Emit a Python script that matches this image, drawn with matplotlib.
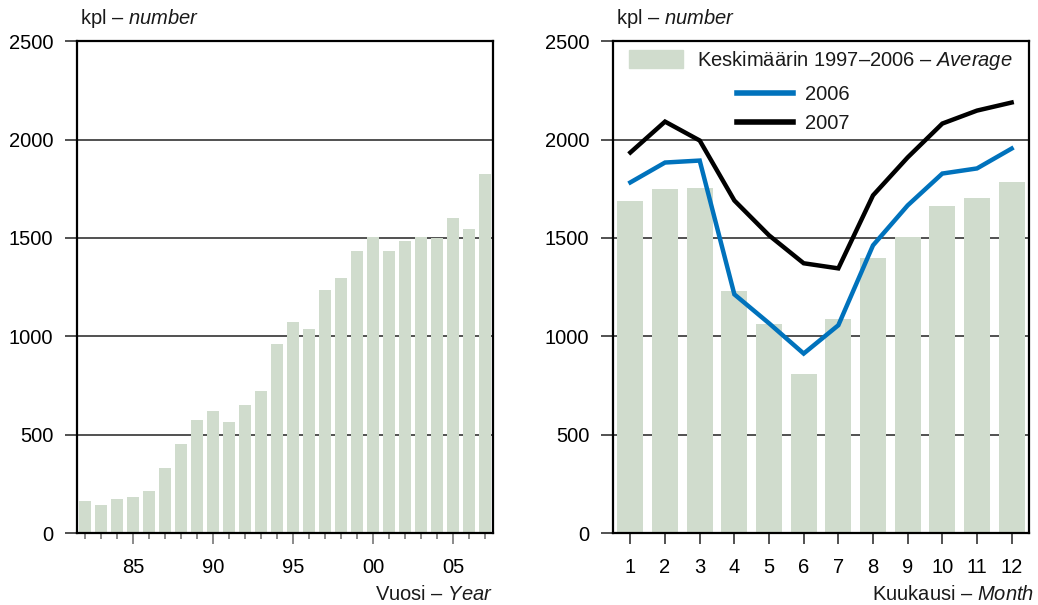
"""
Vehicle counts: yearly totals and monthly pattern (kpl - number).
"""

import matplotlib
matplotlib.use("Agg")
import matplotlib.pyplot as plt
from matplotlib.lines import Line2D
from matplotlib.patches import Patch

FONT = ["Liberation Sans", "DejaVu Sans"]
plt.rcParams["font.family"] = FONT
plt.rcParams["mathtext.fontset"] = "custom"
plt.rcParams["mathtext.rm"] = "Liberation Sans"
plt.rcParams["mathtext.it"] = "Liberation Sans:italic"
plt.rcParams["text.color"] = "#1a1a1a"

BAR_COLOR = "#D0DCCD"
BLUE = "#0072BC"
BLACK = "#000000"
FS = 14.5

# yearly data 1982-2007
years = list(range(1982, 2008))
yearly = [162, 142, 172, 183, 213, 330, 452, 574, 619, 563, 650, 721, 959,
          1071, 1036, 1234, 1294, 1431, 1503, 1431, 1482, 1503, 1497, 1599,
          1543, 1827]
year_ticks = [1985, 1990, 1995, 2000, 2005]
year_labels = ["85", "90", "95", "00", "05"]

# monthly data
months = list(range(1, 13))
avg_9706 = [1685, 1746, 1756, 1228, 1061, 807, 1086, 1396, 1503, 1660, 1701, 1782]
m2006 = [1782, 1883, 1893, 1213, 1066, 912, 1056, 1462, 1665, 1827, 1853, 1954]
m2007 = [1934, 2091, 1995, 1690, 1513, 1371, 1345, 1716, 1909, 2081, 2147, 2188]

yticks = [0, 500, 1000, 1500, 2000, 2500]


def style_axis(ax):
    ax.set_ylim(0, 2500)
    ax.set_yticks(yticks)
    for s in ax.spines.values():
        s.set_linewidth(1.6)
        s.set_color("black")
    ax.tick_params(axis="y", length=9, width=1.2, color="#333333",
                   labelsize=FS, pad=8)
    for y in yticks[1:-1]:
        ax.axhline(y, color="#222222", lw=1.1, zorder=0)


fig = plt.figure(figsize=(10.38, 6.05), dpi=100)
ax1 = fig.add_axes([0.0742, 0.119, 0.4008, 0.813])
ax2 = fig.add_axes([0.5906, 0.119, 0.4007, 0.813])

# left: yearly
ax1.bar(years, yearly, width=0.75, color=BAR_COLOR, zorder=2)
ax1.set_xlim(1981.5, 2007.5)
style_axis(ax1)
ax1.set_xticks(years, minor=True)
ax1.set_xticks(year_ticks)
ax1.set_xticklabels(year_labels)
ax1.tick_params(axis="x", which="major", length=8, width=1.2,
                color="#777777", labelsize=FS, pad=10)
ax1.tick_params(axis="x", which="minor", length=4, width=1.2,
                color="#777777")

# right: monthly
ax2.bar(months, avg_9706, width=0.75, color=BAR_COLOR, zorder=2)
ax2.plot(months, m2006, color=BLUE, lw=3.2, zorder=3,
         solid_joinstyle="miter")
ax2.plot(months, m2007, color=BLACK, lw=3.2, zorder=3,
         solid_joinstyle="miter")
ax2.set_xlim(0.5, 12.5)
style_axis(ax2)
ax2.set_xticks(months)
ax2.tick_params(axis="x", length=8, width=1.2, color="#333333",
                labelsize=FS, pad=10)

# legends
leg1 = ax2.legend([Patch(color=BAR_COLOR)],
                  [r"Keskimäärin 1997–2006 – $\it{Average}$"],
                  loc="upper left", bbox_to_anchor=(0.038, 0.985),
                  frameon=False, fontsize=FS, borderpad=0, borderaxespad=0,
                  handlelength=2.7, handleheight=1.0, handletextpad=0.7)
ax2.add_artist(leg1)
ax2.legend([Line2D([], [], color=BLUE, lw=4),
            Line2D([], [], color=BLACK, lw=4)],
           ["2006", "2007"],
           loc="upper left", bbox_to_anchor=(0.298, 0.91),
           frameon=False, fontsize=FS, borderpad=0, borderaxespad=0,
           handlelength=2.8, handletextpad=0.6, labelspacing=0.5)

# unit and axis titles
for ax in (ax1, ax2):
    ax.annotate(r"kpl – $\it{number}$", xy=(0, 1), xycoords="axes fraction",
                xytext=(2, 8), textcoords="offset points",
                fontsize=FS, ha="left", va="bottom")

ax1.annotate(r"Vuosi – $\it{Year}$", xy=(1, 0), xycoords="axes fraction",
             xytext=(0, -44), textcoords="offset points",
             fontsize=FS, ha="right", va="center")
ax2.annotate(r"Kuukausi – $\it{Month}$", xy=(1, 0), xycoords="axes fraction",
             xytext=(4, -44), textcoords="offset points",
             fontsize=FS, ha="right", va="center")

fig.savefig("out.png", dpi=100, facecolor="white")
